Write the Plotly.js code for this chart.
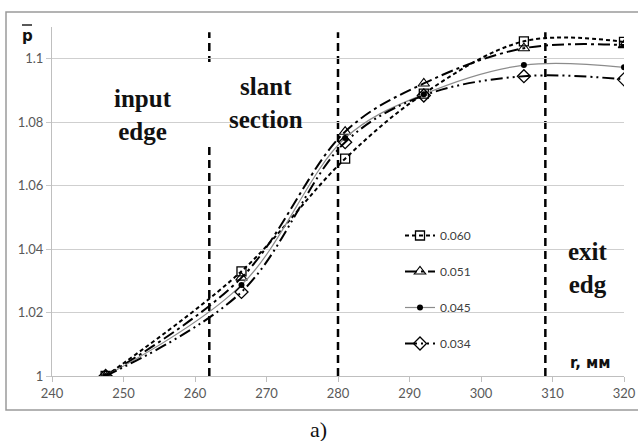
<!DOCTYPE html>
<html>
<head>
<meta charset="utf-8">
<script src="https://cdn.plot.ly/plotly-3.0.1.min.js"></script>
<style>html,body{margin:0;padding:0;background:#fff}#chart{width:638px;height:441px}</style>
</head>
<body>
<div id="chart"></div>
<script>
// ---- data ----
const rValues = [247.5, 266.5, 281, 292, 306, 320];
const seriesNames = ["0.060", "0.051", "0.045", "0.034"];
const p060 = [1.000, 1.033, 1.0685, 1.089, 1.1055, 1.1053];
const p051 = [1.000, 1.031, 1.077, 1.0922, 1.1033, 1.1043];
const p045 = [1.000, 1.0287, 1.075, 1.0888, 1.098, 1.0973];
const p034 = [1.000, 1.0265, 1.0737, 1.0884, 1.0945, 1.0935];
const sectionBounds = [262, 280, 309];
const xTicks = [240, 250, 260, 270, 280, 290, 300, 310, 320];
const yTickVals = [1, 1.02, 1.04, 1.06, 1.08, 1.1];
const yTickText = ["1", "1.02", "1.04", "1.06", "1.08", "1.1"];
const regionLabels = ["input<br>edge", "slant<br>section", "exit<br>edg"];

const serif = "Liberation Serif, Times New Roman, serif";
const sans = "Lato, Liberation Sans, Arial, sans-serif";

function tr(name, y, lineOpt, marker, g) {
  return {
    x: rValues, y: y, name: name, type: "scatter", mode: "lines+markers",
    line: Object.assign({shape: "spline", smoothing: 1}, lineOpt),
    marker: marker, legendgroup: g
  };
}
const traces = [
  tr(seriesNames[0], p060, {color: "#000", width: 2, dash: "4px,3px"},
     {symbol: "square-open", size: 9, color: "#000", line: {width: 1.3}}, "a"),
  tr(seriesNames[1], p051, {color: "#000", width: 2, dash: "12px,4px,3px,4px"},
     {symbol: "triangle-up-open", size: 10, color: "#000", line: {width: 1.1}}, "b"),
  tr(seriesNames[2], p045, {color: "#8c8c8c", width: 1.2},
     {symbol: "circle", size: 6, color: "#000"}, "c"),
  tr(seriesNames[3], p034, {color: "#000", width: 2, dash: "12px,4px,2px,4px,2px,4px"},
     {symbol: "diamond-open", size: 10, color: "#000", line: {width: 1.3}}, "d")
];

const px = v => (v - 52) / 572;
const py = v => (376 - v) / 349;

const shapes = [];
// outer frame
shapes.push({type: "rect", xref: "paper", yref: "paper", x0: px(6), x1: px(660), y0: py(410), y1: py(12),
  line: {color: "#9a9a9a", width: 1.5}, layer: "below"});
// vertical section boundaries
sectionBounds.forEach(function (b) {
  shapes.push({type: "line", xref: "x", yref: "paper", x0: b, x1: b, y0: 0, y1: 0.985,
    line: {color: "#000", width: 2.5, dash: "8px,5px"}, layer: "between"});
});
// white boxes behind region labels
shapes.push({type: "rect", xref: "paper", yref: "paper", x0: px(83), x1: px(200),
  y0: py(150), y1: py(85), fillcolor: "#fff", line: {width: 0}, layer: "between"});
shapes.push({type: "rect", xref: "paper", yref: "paper", x0: px(204), x1: px(331),
  y0: py(147), y1: py(62), fillcolor: "#fff", line: {width: 0}, layer: "between"});
shapes.push({type: "rect", xref: "paper", yref: "paper", x0: px(548), x1: px(624),
  y0: py(302), y1: py(238), fillcolor: "#fff", line: {width: 0}, layer: "between"});
// overline on p
shapes.push({type: "line", xref: "paper", yref: "paper", x0: px(22), x1: px(32),
  y0: py(25), y1: py(25), line: {color: "#222", width: 1.5}});

function ann(text, x, y, family, size) {
  return {text: text, xref: "paper", yref: "paper", x: px(x), y: py(y), xanchor: "center", yanchor: "middle",
    showarrow: false, font: {family: family, size: size, color: "#111"}};
}
const annotations = [
  ann("<b>p</b>", 27, 36, "DejaVu Sans, sans-serif", 15),
  ann("<b>r, мм</b>", 590, 363, "DejaVu Sans, sans-serif", 15),
  ann("<b>" + regionLabels[0] + "</b>", 143, 115, serif, 25),
  ann("<b>" + regionLabels[1] + "</b>", 266, 103, serif, 25),
  ann("<b>" + regionLabels[2] + "</b>", 588, 268, serif, 25),
  ann("a)", 318, 429, serif, 22)
];

const layout = {
  width: 638, height: 441,
  margin: {l: 52, r: 14, t: 27, b: 65},
  paper_bgcolor: "#fff", plot_bgcolor: "#fff",
  showlegend: true,
  legend: {x: px(400), y: py(221), xanchor: "left", yanchor: "top",
    bgcolor: "rgba(0,0,0,0)", font: {family: sans, size: 12, color: "#404040"},
    tracegroupgap: 17, itemwidth: 30},
  xaxis: {range: [240, 320], tickvals: xTicks, ticks: "outside", ticklen: 5, tickcolor: "#bfbfbf",
    showgrid: false, showline: true, linecolor: "#bfbfbf", linewidth: 1, zeroline: false,
    tickfont: {family: sans, size: 13, color: "#595959"}},
  yaxis: {range: [1, 1.11], tickvals: yTickVals, ticktext: yTickText, ticks: "outside", ticklen: 5,
    tickcolor: "#c8c8c8", showgrid: true, gridcolor: "#cfcfcf", gridwidth: 1,
    showline: true, linecolor: "#bfbfbf", linewidth: 1, zeroline: false,
    tickfont: {family: sans, size: 13, color: "#595959"}},
  shapes: shapes,
  annotations: annotations
};

Plotly.newPlot("chart", traces, layout, {displayModeBar: false, staticPlot: true});
</script>
</body>
</html>
